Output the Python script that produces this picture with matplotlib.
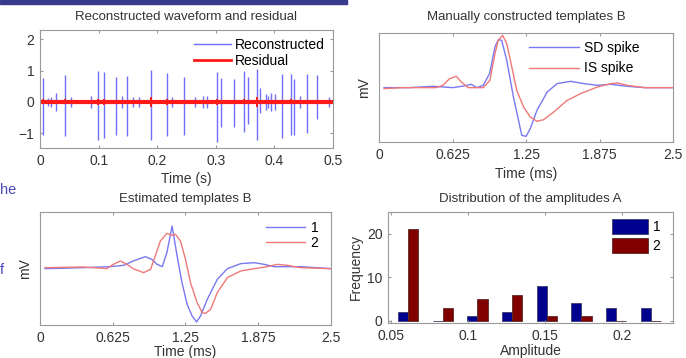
import matplotlib.pyplot as plt
from matplotlib.patches import Rectangle

plt.rcParams['font.family'] = ['Liberation Sans', 'DejaVu Sans']
plt.rcParams['font.size'] = 10

# --- panel 1: spikes of the reconstructed waveform (time in s, peak up / peak down)
spike_t = [0.0046, 0.013, 0.018, 0.028, 0.043, 0.053, 0.087, 0.0985, 0.110, 0.1297,
           0.140, 0.148, 0.158, 0.169, 0.190, 0.217, 0.226, 0.246, 0.265, 0.279,
           0.285, 0.3015, 0.309, 0.332, 0.349, 0.355, 0.370, 0.376, 0.385, 0.389,
           0.395, 0.401, 0.413, 0.429, 0.433, 0.444, 0.456, 0.473, 0.493]
spike_up = [0.78, 0.12, 0.15, 0.30, 0.86, 0.15, 0.2, 1.0, 0.97, 0.80,
            0.2, 0.84, 0.15, 0.15, 1.02, 0.93, 0.15, 0.80, 0.15, 0.2,
            0.2, 0.95, 0.78, 0.75, 0.98, 0.80, 1.05, 0.45, 0.25, 0.2,
            0.3, 0.25, 0.88, 0.90, 0.75, 0.2, 0.88, 0.86, 0.15]
spike_down = [-1.05, -0.12, -0.15, -0.28, -1.1, -0.15, -0.2, -1.2, -1.16, -1.05,
              -0.2, -1.1, -0.15, -0.15, -1.2, -1.1, -0.15, -1.04, -0.15, -0.2,
              -0.2, -1.27, -0.8, -0.8, -0.95, -0.7, -1.2, -0.35, -0.25, -0.2,
              -0.3, -0.25, -1.14, -1.05, -1.05, -0.2, -1.0, -0.55, -0.15]
resid_amp = [0.08, 0.04, 0.05, 0.06, 0.08, 0.04, 0.05, 0.1, 0.1, 0.07,
             0.04, 0.07, 0.04, 0.05, 0.16, 0.1, 0.04, 0.07, 0.04, 0.05,
             0.04, 0.1, 0.06, 0.06, 0.08, 0.05, 0.16, 0.05, 0.04, 0.04,
             0.04, 0.04, 0.07, 0.08, 0.06, 0.04, 0.07, 0.07, 0.04]
resid_t = [0.0, 0.5]
resid_v = [0.0, 0.0]

# --- panel 2: manually constructed templates (time in ms, arbitrary mV)
sd_t = [0.043, 0.26, 0.46, 0.63, 0.72, 0.786, 0.83, 0.886, 0.94, 0.986, 1.014, 1.043,
        1.086, 1.143, 1.186, 1.214, 1.251, 1.286, 1.343, 1.43, 1.514, 1.629, 1.743,
        1.857, 1.97, 2.11, 2.26, 2.5]
sd_v = [0.0, 0.0, 0.04, 0.0, 0.05, 0.1, 0.0, 0.07, 0.42, 1.22, 1.44, 1.42,
        0.82, -0.28, -0.98, -1.43, -1.46, -1.23, -0.68, -0.13, 0.12, 0.19, 0.12,
        0.07, 0.1, 0.04, 0.0, 0.0]
is_t = [0.043, 0.2, 0.486, 0.543, 0.6, 0.657, 0.7, 0.757, 0.886, 0.943, 0.986, 1.014,
        1.051, 1.086, 1.129, 1.171, 1.229, 1.286, 1.343, 1.4, 1.486, 1.6, 1.714,
        1.857, 1.97, 2.03, 2.11, 2.26, 2.5]
is_v = [-0.03, 0.0, 0.0, 0.07, 0.27, 0.34, 0.17, 0.0, 0.0, 0.22, 1.02, 1.42,
        1.57, 1.32, 0.62, -0.08, -0.58, -0.88, -1.01, -0.96, -0.73, -0.38, -0.18,
        0.02, 0.12, 0.14, 0.07, 0.0, 0.0]

# --- panel 3: estimated templates
e1_t = [0.043, 0.37, 0.6, 0.72, 0.8, 0.905, 0.96, 1.006, 1.05, 1.09, 1.135, 1.178,
        1.22, 1.264, 1.307, 1.345, 1.379, 1.437, 1.523, 1.61, 1.724, 1.84, 1.925,
        2.01, 2.24, 2.5]
e1_v = [-0.03, 0.0, 0.03, 0.07, 0.2, 0.33, 0.25, 0.1, 0.03, 0.45, 1.25, 0.35,
        -0.45, -1.1, -1.45, -1.63, -1.45, -0.95, -0.35, -0.03, 0.12, 0.15, 0.1,
        0.03, 0.03, -0.03]
e2_t = [0.043, 0.37, 0.575, 0.63, 0.69, 0.747, 0.8, 0.89, 0.95, 0.99, 1.034, 1.09,
        1.135, 1.164, 1.207, 1.25, 1.293, 1.35, 1.394, 1.422, 1.466, 1.523, 1.61,
        1.724, 1.84, 1.954, 2.04, 2.126, 2.24, 2.5]
e2_v = [0.0, 0.02, -0.03, 0.1, 0.2, 0.1, -0.03, -0.15, -0.05, 0.35, 0.8, 1.03,
        0.97, 1.0, 0.8, 0.25, -0.45, -1.05, -1.35, -1.37, -1.25, -0.75, -0.3,
        -0.1, -0.03, 0.03, 0.1, 0.07, 0.0, -0.03]

# --- panel 4: amplitude histogram
amp_centers = [0.061, 0.0835, 0.106, 0.1285, 0.151, 0.1735, 0.196, 0.2185]
count_1 = [2, 0, 1, 2, 8, 4, 3, 3]
count_2 = [21, 3, 5, 6, 1, 1, 0, 0]

BLUE = '#7878f0'
RED = '#f07878'
AX_COL = '#9a9a9a'
TXT = '#333333'


def style(ax):
    for s in ax.spines.values():
        s.set_color(AX_COL)
        s.set_linewidth(0.8)
    ax.tick_params(direction='in', length=2.5, color=AX_COL, labelcolor=TXT,
                   top=True, right=True, labelsize=10, pad=4)


fig = plt.figure(figsize=(6.86, 3.58), dpi=100)

# panel 1
ax1 = fig.add_axes([0.0583, 0.5866, 0.427, 0.3296])
ax1.vlines(spike_t, spike_down, spike_up, color='#7070ff', lw=1.0)
ax1.plot([], [], color='#7070ff', lw=1.0, label='Reconstructed')
ax1.vlines(spike_t, [-a for a in resid_amp], resid_amp, color='#ff1a1a', lw=1.4)
ax1.plot(resid_t, resid_v, color='#ff1a1a', lw=3.0, label='Residual')
ax1.set_xlim(0, 0.5)
ax1.set_ylim(-1.47, 2.3)
ax1.set_yticks([-1, 0, 1, 2])
ax1.set_xticks([0, 0.1, 0.2, 0.3, 0.4, 0.5])
ax1.set_xticklabels(['0', '0.1', '0.2', '0.3', '0.4', '0.5'])
ax1.set_title('Reconstructed waveform and residual', fontsize=9.5, color=TXT, pad=7)
ax1.set_xlabel('Time (s)', color=TXT, labelpad=3)
leg1 = ax1.legend(loc='upper right', frameon=False, fontsize=10, handlelength=2.6,
                  borderaxespad=0.2, labelspacing=0.1, handletextpad=0.3)
leg1.get_lines()[1].set_linewidth(2.0)
style(ax1)

# panel 2
ax2 = fig.add_axes([0.5525, 0.6034, 0.4286, 0.3045])
ax2.plot(sd_t, sd_v, color=BLUE, lw=1.0, label='SD spike')
ax2.plot(is_t, is_v, color=RED, lw=1.0, label='IS spike')
ax2.set_xlim(0, 2.5)
ax2.set_ylim(-1.63, 1.64)
ax2.set_yticks([])
ax2.set_xticks([0, 0.625, 1.25, 1.875, 2.5])
ax2.set_xticklabels(['0', '0.625', '1.25', '1.875', '2.5'])
ax2.set_title('Manually constructed templates B', fontsize=9.5, color=TXT, pad=9)
ax2.set_xlabel('Time (ms)', color=TXT, labelpad=4)
ax2.set_ylabel('mV', color=TXT, labelpad=6)
ax2.legend(loc='upper right', bbox_to_anchor=(0.93, 1.04), frameon=False,
           fontsize=10, handlelength=3.6, labelspacing=0.45, handletextpad=0.4)
style(ax2)

# panel 3
ax3 = fig.add_axes([0.0583, 0.0922, 0.4242, 0.3156])
ax3.plot(e1_t, e1_v, color=BLUE, lw=1.0, label='1')
ax3.plot(e2_t, e2_v, color=RED, lw=1.0, label='2')
ax3.set_xlim(0, 2.5)
ax3.set_ylim(-1.72, 1.67)
ax3.set_yticks([])
ax3.set_xticks([0, 0.625, 1.25, 1.875, 2.5])
ax3.set_xticklabels(['0', '0.625', '1.25', '1.875', '2.5'])
ax3.set_title('Estimated templates B', fontsize=9.5, color=TXT, pad=7)
ax3.set_xlabel('Time (ms)', color=TXT, labelpad=0)
ax3.set_ylabel('mV', color=TXT, labelpad=6)
ax3.legend(loc='upper right', bbox_to_anchor=(1.0, 1.03), frameon=False,
           fontsize=10, handlelength=2.8, labelspacing=0.05, handletextpad=0.4)
style(ax3)

# panel 4
ax4 = fig.add_axes([0.5656, 0.0978, 0.4155, 0.31])
bw = 0.0066
ax4.bar([c - bw / 2 for c in amp_centers], count_1, width=bw, color='#00008f',
        edgecolor='#3a3a6a', lw=0.6, label='1')
ax4.bar([c + bw / 2 for c in amp_centers], count_2, width=bw, color='#800000',
        edgecolor='#5a2a2a', lw=0.6, label='2')
ax4.set_xlim(0.048, 0.233)
ax4.set_ylim(-0.5, 25)
ax4.set_yticks([0, 10, 20])
ax4.set_xticks([0.05, 0.1, 0.15, 0.2])
ax4.set_xticklabels(['0.05', '0.1', '0.15', '0.2'])
ax4.set_title('Distribution of the amplitudes A', fontsize=9.5, color=TXT, pad=7)
ax4.set_xlabel('Amplitude', color=TXT, labelpad=1)
ax4.set_ylabel('Frequency', color=TXT, labelpad=3)
ax4.legend(loc='upper right', bbox_to_anchor=(1.0, 1.05), frameon=False,
           fontsize=10, handlelength=2.6, handleheight=1.3, labelspacing=0.25,
           handletextpad=0.3)
style(ax4)

# crop leftovers from the source page
fig.patches.append(Rectangle((0, 0.99), 347 / 686, 0.01, transform=fig.transFigure,
                             color='#3a3a8c', zorder=5))
fig.text(0.0, 0.47, 'he', color='#4a4ab8', fontsize=10.5, ha='left', va='center')
fig.text(0.0, 0.245, 'f', color='#4a4ab8', fontsize=10.5, ha='left', va='center')

plt.savefig('out.png', dpi=100)
